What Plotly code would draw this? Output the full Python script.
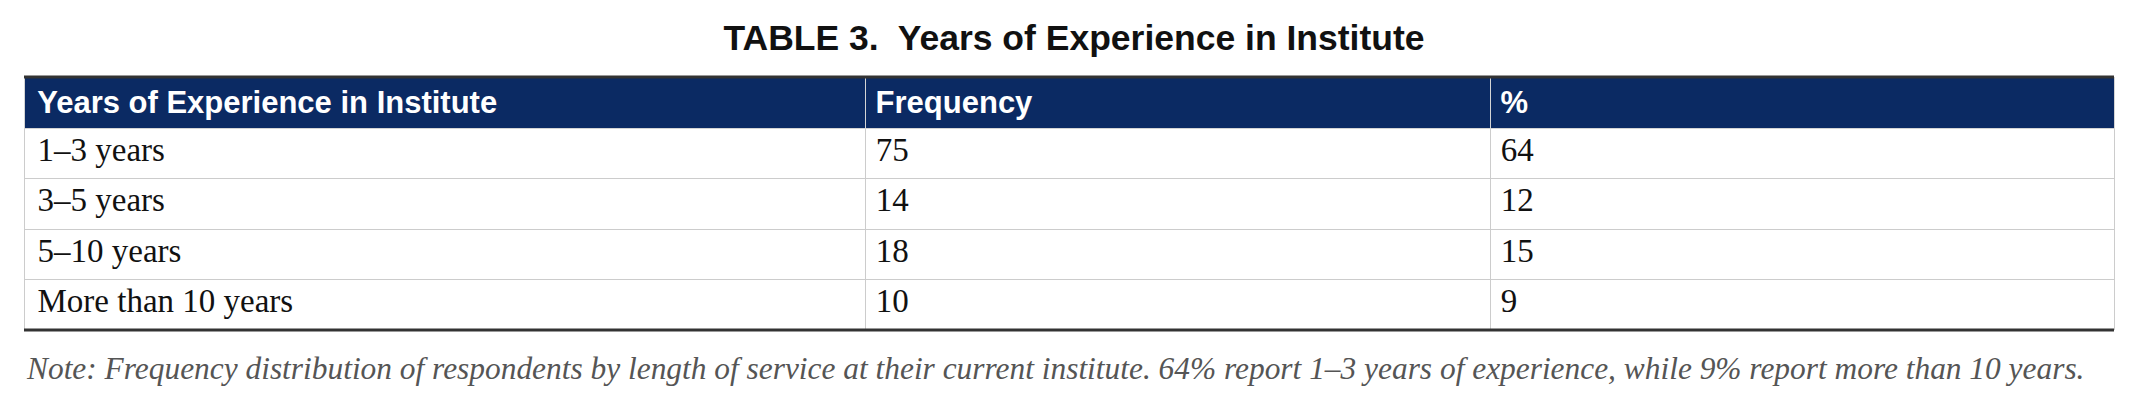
import plotly.graph_objects as go

# table data
col_names = ["Years of Experience in Institute", "Frequency", "%"]
experience = ["1–3 years", "3–5 years", "5–10 years", "More than 10 years"]
frequency = [75, 14, 18, 10]
percent = [64, 12, 15, 9]

title_text = "<b>TABLE 3.  Years of Experience in Institute</b>"
note_text = ("<i>Note: Frequency distribution of respondents by length of service at their "
             "current institute. 64% report 1–3 years of experience, while 9% report more than 10 years.</i>")

# page body has an 8px margin, so figure is 8px smaller each way
W, H = 2132, 398
pad = "\u200a"  # a little extra left padding in cells

fig = go.Figure(go.Table(
    columnwidth=[841, 625, 624],
    header=dict(
        values=["<b>" + c + "</b>" for c in col_names],
        prefix=pad,
        fill_color="#0b2a63",
        line=dict(color="#d4d4d4", width=1),
        align="left",
        height=51,
        font=dict(family="Liberation Sans, Arial, sans-serif", size=31, color="white"),
    ),
    cells=dict(
        values=[experience, frequency, percent],
        prefix=pad,
        fill_color="white",
        line=dict(color="#cccccc", width=1),
        align="left",
        height=50.5,
        font=dict(family="Liberation Serif, Times New Roman, serif", size=33, color="#111111"),
    ),
))

# thick rules above header and below last row
fig.add_shape(type="line", xref="paper", yref="paper", x0=0, x1=1, y0=1, y1=1,
              line=dict(color="#333333", width=3))
fig.add_shape(type="line", xref="paper", yref="paper", x0=0, x1=1, y0=0, y1=0,
              line=dict(color="#333333", width=3))

fig.add_annotation(text=note_text, xref="paper", yref="paper", x=0, y=0,
                   xanchor="left", yanchor="middle", yshift=-38, showarrow=False,
                   font=dict(family="Liberation Serif, Times New Roman, serif", size=31.4, color="#555555"))

fig.update_layout(
    width=W, height=H,
    margin=dict(l=16, r=26, t=69, b=76),
    paper_bgcolor="white",
    title=dict(text=title_text, x=0.5, xanchor="center", y=1 - 30 / H, yanchor="middle",
               font=dict(family="Liberation Sans, Arial, sans-serif", size=35.5, color="#111111")),
)

fig.write_html("out.html")
